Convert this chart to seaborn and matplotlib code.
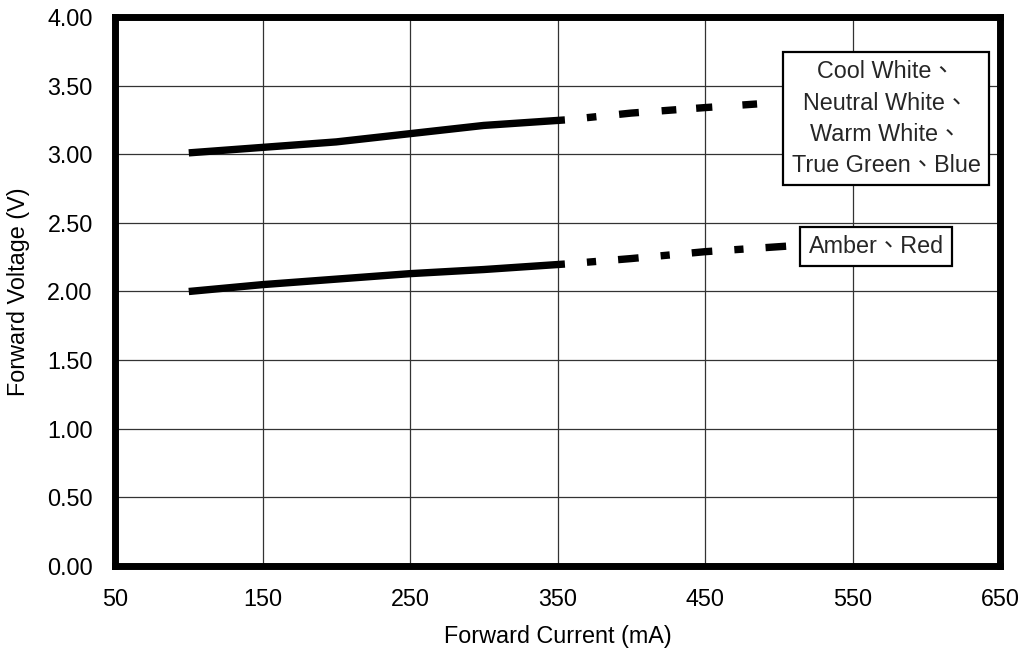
import matplotlib
matplotlib.use('Agg')
import matplotlib.pyplot as plt
import seaborn as sns
import pandas as pd

# Dados (corrente em mA, tensão em V)
current_solid = [100, 150, 200, 250, 300, 355]
white_solid = [3.01, 3.05, 3.09, 3.15, 3.21, 3.25]
red_solid = [2.00, 2.05, 2.09, 2.13, 2.16, 2.20]

current_white_dash = [355, 400, 450, 490]
white_dash = [3.25, 3.30, 3.34, 3.37]
current_red_dash = [355, 400, 450, 505]
red_dash = [2.20, 2.24, 2.29, 2.33]

x_ticks = [50, 150, 250, 350, 450, 550, 650]
y_ticks = [0.0, 0.5, 1.0, 1.5, 2.0, 2.5, 3.0, 3.5, 4.0]

label_white = "Cool White、\nNeutral White、\nWarm White、\nTrue Green、Blue"
label_red = "Amber、Red"

sns.set_theme(style='white')
plt.rcParams['font.family'] = ['Liberation Sans', 'Noto Sans CJK TC', 'DejaVu Sans']
FS = 16.8

fig = plt.figure(figsize=(10.26, 6.54), dpi=100)
ax = fig.add_axes([0.1121, 0.1346, 0.8626, 0.8394])

df_solid = pd.DataFrame({'I': current_solid, 'white': white_solid, 'red': red_solid})
df_wd = pd.DataFrame({'I': current_white_dash, 'V': white_dash})
df_rd = pd.DataFrame({'I': current_red_dash, 'V': red_dash})

LW = 5.3
sns.lineplot(data=df_solid, x='I', y='white', ax=ax, color='black', lw=LW,
             solid_capstyle='butt', zorder=3)
sns.lineplot(data=df_solid, x='I', y='red', ax=ax, color='black', lw=LW,
             solid_capstyle='butt', zorder=3)
sns.lineplot(data=df_wd, x='I', y='V', ax=ax, color='black', lw=LW, zorder=3)
sns.lineplot(data=df_rd, x='I', y='V', ax=ax, color='black', lw=LW, zorder=3)

# tracejado: espaço, ponto, espaço, traço...
seq_white = (1.3, 3.1, 2.7, 3.1, 2.0, 2.7, 2.2, 4.1, 2.0, 3.0)
ax.lines[2].set_linestyle((sum(seq_white) - 3.0, seq_white))
ax.lines[3].set_linestyle((2.8, (2.8, 3.0, 1.25, 3.0)))
for ln in ax.lines[2:]:
    ln.set_dash_capstyle('butt')

ax.set_xlim(50, 650)
ax.set_ylim(0, 4)
ax.set_xticks(x_ticks)
ax.set_yticks(y_ticks)
ax.set_xticklabels([str(t) for t in x_ticks])
ax.set_yticklabels([f'{t:.2f}' for t in y_ticks])
ax.tick_params(length=0, pad=16, labelsize=FS, colors='black')
ax.grid(True, color='#333333', lw=0.9)

for sp in ax.spines.values():
    sp.set_visible(True)
    sp.set_color('black')
    sp.set_linewidth(5)
    sp.set_zorder(5)

ax.set_xlabel('Forward Current (mA)', fontsize=FS, color='black', va='center')
ax.set_ylabel('Forward Voltage (V)', fontsize=FS, color='black', va='center')
ax.xaxis.set_label_coords(0.5, -0.1293)
ax.yaxis.set_label_coords(-0.1096, 0.5)

box = dict(boxstyle='square,pad=0.35', fc='white', ec='black', lw=1.6)
ax.text(572.7, 3.26, label_white, ha='center', va='center', ma='center',
        fontsize=FS, linespacing=1.45, bbox=box, zorder=6)
ax.text(566, 2.33, label_red, ha='center', va='center',
        fontsize=FS, bbox=box, zorder=6)

plt.savefig('out.png', dpi=100)
